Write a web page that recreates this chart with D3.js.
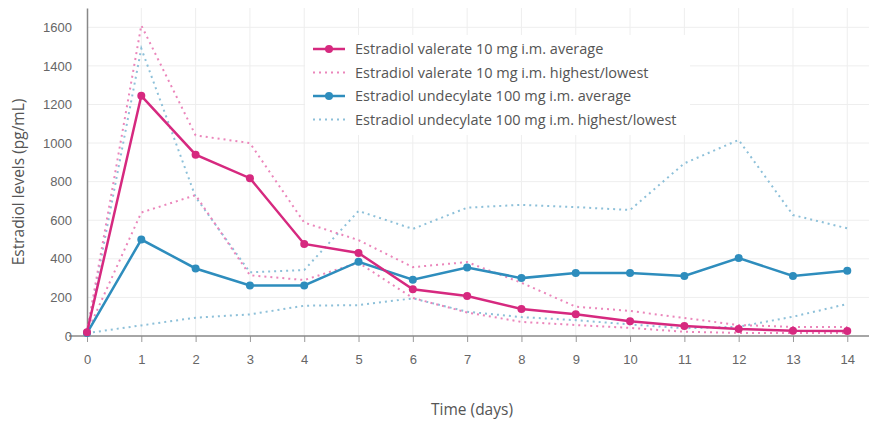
<!DOCTYPE html>
<html>
<head>
<meta charset="utf-8">
<script src="https://cdn.jsdelivr.net/npm/d3@7"></script>
<style>
  body { margin: 0; background: #fff; }
  svg { font-family: "Open Sans", sans-serif; }
</style>
</head>
<body>
<svg id="chart" width="869" height="422"></svg>
<script>
(() => {
  const days = [0, 1, 2, 3, 4, 5, 6, 7, 8, 9, 10, 11, 12, 13, 14];
  const yTicks = [0, 200, 400, 600, 800, 1000, 1200, 1400, 1600];

  const evAvg  = [20, 1245, 940, 818, 477, 430, 242, 207, 140, 113, 76, 52, 36, 27, 26];
  const evHigh = [22, 1610, 1040, 1000, 588, 497, 357, 383, 276, 152, 130, 93, 57, 47, 47];
  const evLow  = [18, 640, 730, 315, 290, 380, 197, 122, 73, 57, 42, 22, 16, 15, 15];
  const euAvg  = [15, 500, 350, 262, 262, 385, 292, 355, 300, 326, 326, 311, 404, 311, 338];
  const euHigh = [20, 1490, 720, 330, 342, 648, 555, 665, 680, 668, 653, 895, 1016, 627, 558];
  const euLow  = [15, 55, 95, 112, 157, 160, 195, 126, 98, 82, 60, 40, 48, 100, 166];

  const PINK = "#d6297f";
  const PINK_DOT = "#eb86bb";
  const BLUE = "#2e8dbd";
  const BLUE_DOT = "#8dc0d9";

  const svg = d3.select("#chart");

  const x = d3.scaleLinear().domain([0, 14.4]).range([87, 869]);
  const y = d3.scaleLinear().domain([0, 1700]).range([336, 8]);

  /* ---------- GRID ---------- */
  svg.append("g")
    .selectAll("line")
    .data(yTicks.slice(1))
    .join("line")
    .attr("x1", x(0)).attr("x2", 869)
    .attr("y1", d => y(d)).attr("y2", d => y(d))
    .attr("stroke", "#eeeeee");

  svg.append("g")
    .selectAll("line")
    .data(days.slice(1))
    .join("line")
    .attr("x1", d => x(d)).attr("x2", d => x(d))
    .attr("y1", y(0)).attr("y2", 8)
    .attr("stroke", "#eeeeee");

  /* ---------- AXES ---------- */
  const xAxis = svg.append("g")
    .attr("transform", `translate(0,${y(0)})`)
    .call(d3.axisBottom(x).tickValues(days).tickSize(6).tickPadding(13).tickFormat(d3.format("d")));
  xAxis.select(".domain").remove();
  xAxis.selectAll(".tick line").attr("stroke", "#999");
  xAxis.selectAll("text").attr("fill", "#666").style("font-size", "13px");

  // zero line, runs a bit past the y axis on the left
  svg.append("line")
    .attr("x1", 69).attr("x2", 869)
    .attr("y1", y(0)).attr("y2", y(0))
    .attr("stroke", "#888").attr("stroke-width", 1.5);

  const yAxis = svg.append("g")
    .attr("transform", `translate(${x(0)},0)`)
    .call(d3.axisLeft(y).tickValues(yTicks).tickSize(0).tickPadding(15).tickFormat(d3.format("d")));
  yAxis.select(".domain").attr("stroke", "#888").attr("stroke-width", 1.5);
  yAxis.selectAll("text").attr("fill", "#666").style("font-size", "13px");

  svg.append("text")
    .attr("transform", "rotate(-90)")
    .attr("x", -182)
    .attr("y", 24)
    .attr("text-anchor", "middle")
    .attr("fill", "#555")
    .style("font-size", "15.5px")
    .text("Estradiol levels (pg/mL)");

  svg.append("text")
    .attr("x", 472)
    .attr("y", 415)
    .attr("text-anchor", "middle")
    .attr("fill", "#555")
    .style("font-size", "15.5px")
    .text("Time (days)");

  /* ---------- SERIES ---------- */
  const line = d3.line()
    .x((d, i) => x(days[i]))
    .y(d => y(d));

  function dotted(values, color) {
    svg.append("path")
      .datum(values)
      .attr("d", line)
      .attr("fill", "none")
      .attr("stroke", color)
      .attr("stroke-width", 2)
      .attr("stroke-dasharray", "2,4");
  }

  function solid(values, color) {
    svg.append("path")
      .datum(values)
      .attr("d", line)
      .attr("fill", "none")
      .attr("stroke", color)
      .attr("stroke-width", 2.5);
    svg.append("g")
      .selectAll("circle")
      .data(values)
      .join("circle")
      .attr("cx", (d, i) => x(days[i]))
      .attr("cy", d => y(d))
      .attr("r", 4)
      .attr("fill", color);
  }

  dotted(euHigh, BLUE_DOT);
  dotted(euLow, BLUE_DOT);
  dotted(evHigh, PINK_DOT);
  dotted(evLow, PINK_DOT);
  solid(euAvg, BLUE);
  solid(evAvg, PINK);

  /* ---------- LEGEND ---------- */
  const legendItems = [
    { label: "Estradiol valerate 10 mg i.m. average", color: PINK, dash: false },
    { label: "Estradiol valerate 10 mg i.m. highest/lowest", color: PINK_DOT, dash: true },
    { label: "Estradiol undecylate 100 mg i.m. average", color: BLUE, dash: false },
    { label: "Estradiol undecylate 100 mg i.m. highest/lowest", color: BLUE_DOT, dash: true }
  ];

  const legend = svg.append("g").attr("transform", "translate(305,35)");
  legend.append("rect")
    .attr("width", 385).attr("height", 100)
    .attr("fill", "#fff");

  const rows = legend.selectAll("g.row")
    .data(legendItems)
    .join("g")
    .attr("class", "row")
    .attr("transform", (d, i) => `translate(0,${14 + i * 23.5})`);

  rows.append("line")
    .attr("x1", 8).attr("x2", 40)
    .attr("stroke", d => d.color)
    .attr("stroke-width", d => d.dash ? 2 : 2.5)
    .attr("stroke-dasharray", d => d.dash ? "2,4" : null);

  rows.filter(d => !d.dash).append("circle")
    .attr("cx", 24).attr("r", 4)
    .attr("fill", d => d.color);

  rows.append("text")
    .attr("x", 50)
    .attr("dy", "0.35em")
    .attr("fill", "#555")
    .style("font-size", "14.5px")
    .text(d => d.label);
})();
</script>
</body>
</html>
